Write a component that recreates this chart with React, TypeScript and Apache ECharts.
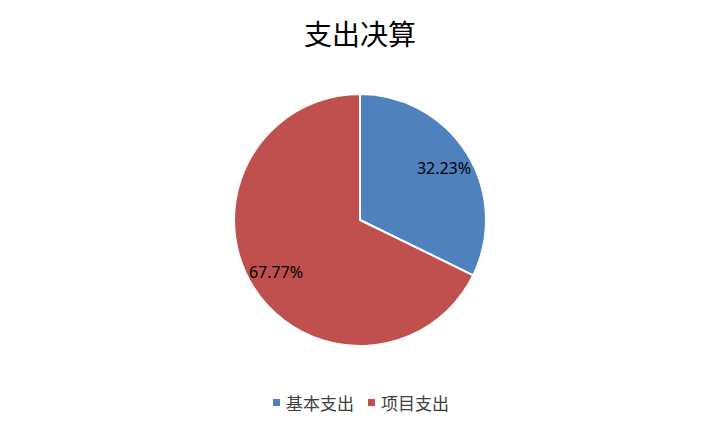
import React, { useEffect, useRef } from "react";
import * as echarts from "echarts";

const title = "支出决算";
const categories = ["基本支出", "项目支出"];
const values = [32.23, 67.77];
const colors = ["#4F81BD", "#C0504D"];

export default function App() {
  const ref = useRef<HTMLDivElement>(null);
  useEffect(() => {
    document.body.style.margin = "0";
    if (!ref.current) return;
    const chart = echarts.init(ref.current, null, { renderer: "svg" });
    const data = categories.map((name, i) => ({ name, value: values[i] }));
    chart.setOption({
      animation: false,
      color: colors,
      title: {
        text: title,
        left: "center",
        top: 14,
        textStyle: {
          fontFamily: "'Noto Sans CJK SC', serif",
          fontWeight: "normal",
          fontSize: 28,
          color: "#000",
        },
      },
      legend: {
        bottom: 16,
        left: "center",
        icon: "rect",
        itemWidth: 9,
        itemHeight: 9,
        itemGap: 12,
        data: categories,
        textStyle: {
          fontFamily: "'Noto Sans CJK SC', serif",
          fontSize: 17,
          color: "#404040",
        },
      },
      series: [
        {
          type: "pie",
          center: [360, 220],
          radius: [0, 126],
          startAngle: 90,
          clockwise: true,
          data,
          itemStyle: { borderColor: "#fff", borderWidth: 2 },
          label: { show: false },
          labelLine: { show: false },
          emphasis: { disabled: true },
        },
        {
          type: "pie",
          center: [360, 220],
          radius: [66, 126],
          startAngle: 90,
          clockwise: true,
          silent: true,
          data,
          itemStyle: { color: "rgba(0,0,0,0)" },
          label: {
            show: true,
            position: "inside",
            formatter: (p: any) => p.value.toFixed(2) + "%",
            fontFamily: "'Noto Sans', sans-serif",
            fontSize: 16,
            color: "#000",
          },
          labelLine: { show: false },
          emphasis: { disabled: true },
        },
      ],
    });
    return () => chart.dispose();
  }, []);
  return <div ref={ref} style={{ width: 720, height: 432 }} />;
}
